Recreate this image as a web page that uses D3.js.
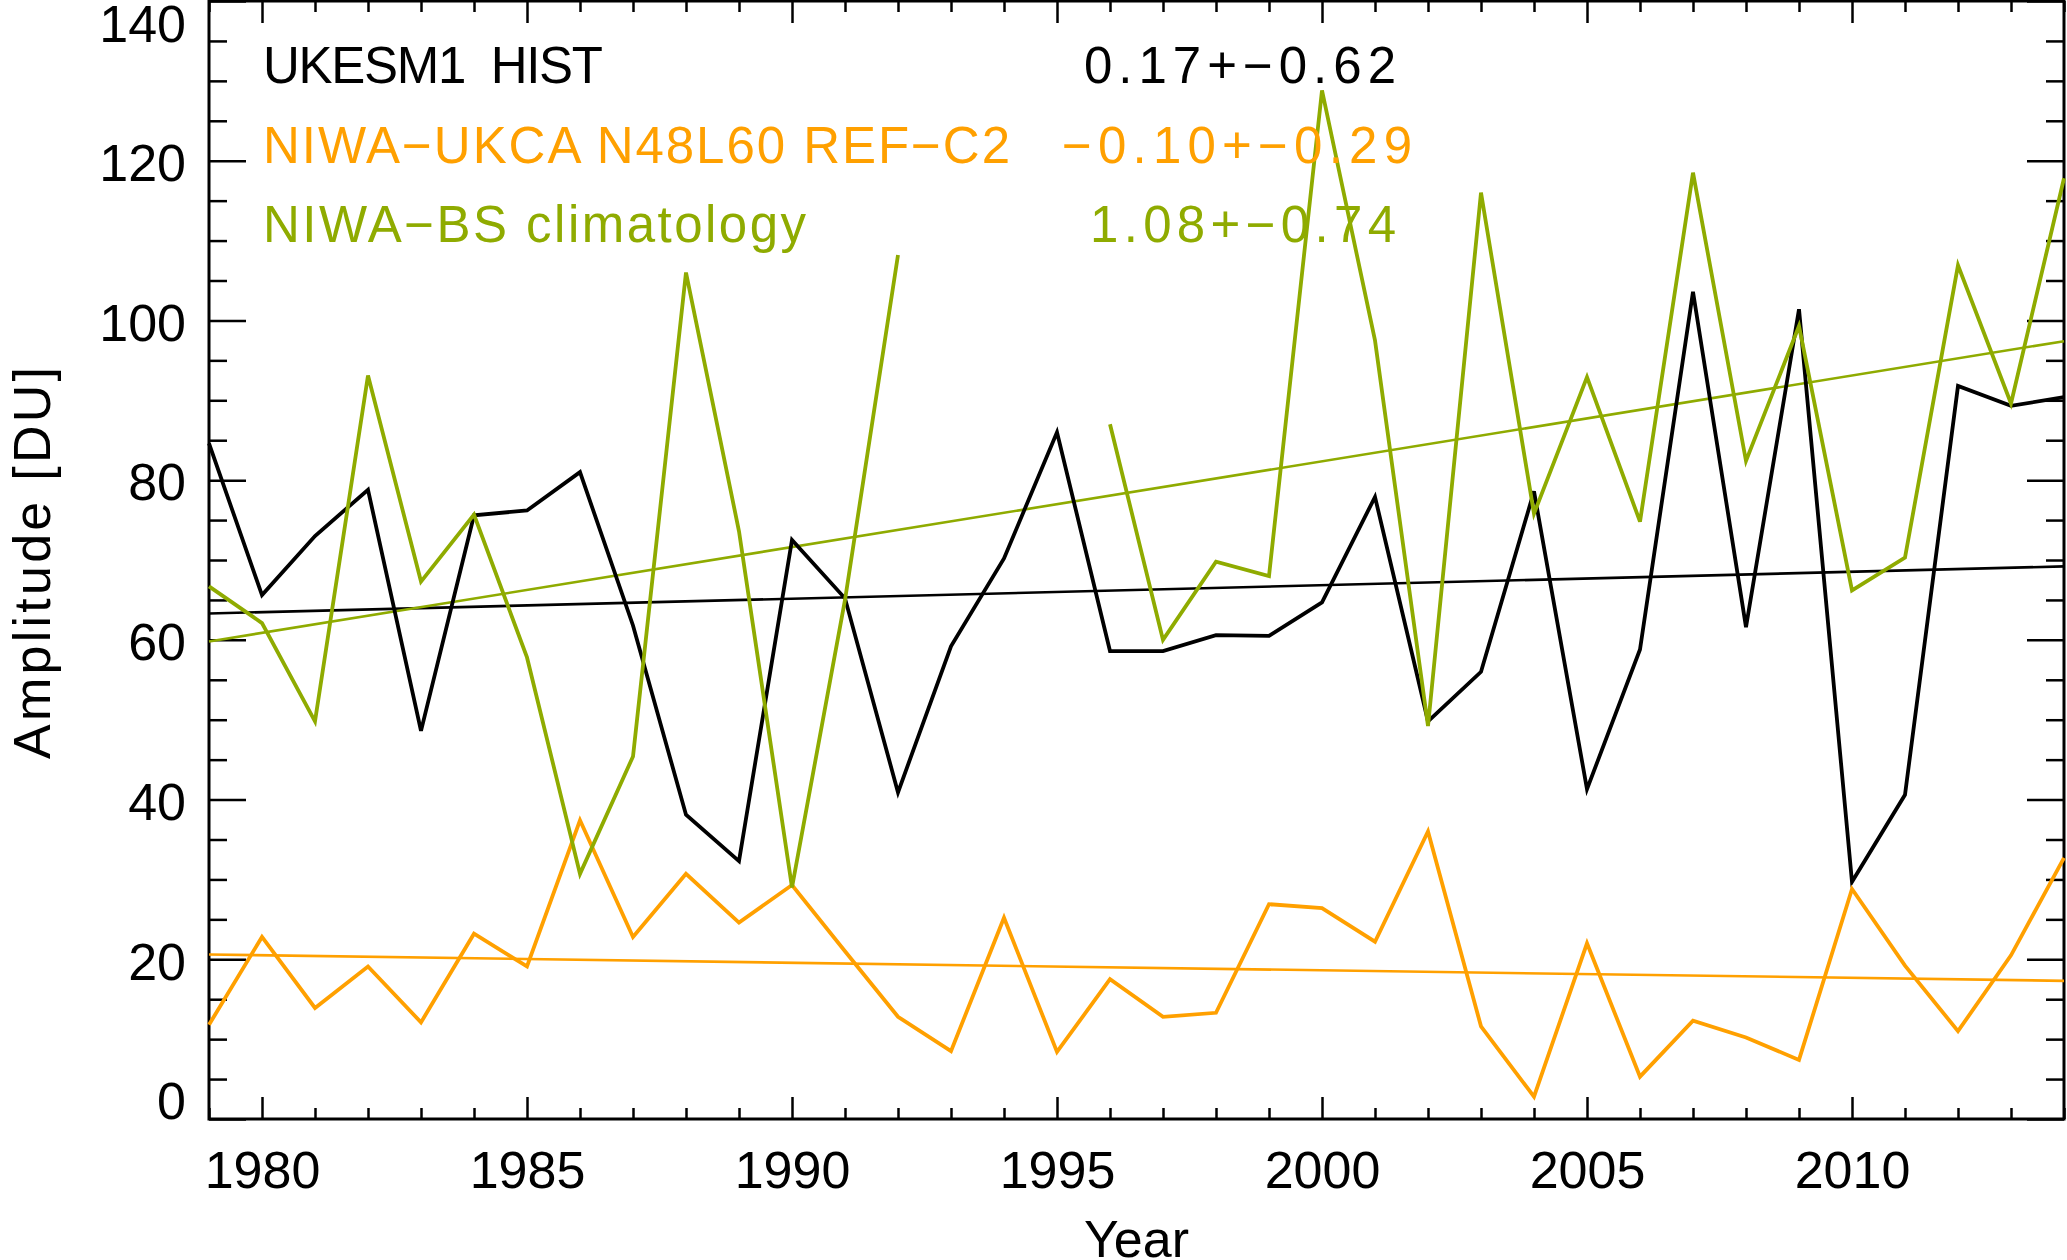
<!DOCTYPE html>
<html>
<head>
<meta charset="utf-8">
<script src="https://cdn.jsdelivr.net/npm/d3@7"></script>
<style>
  body { margin: 0; background: #fff; }
  text { font-family: "Liberation Sans", Arial, sans-serif; }
</style>
</head>
<body>
<div id="content"></div>
<script>
var years = d3.range(1979, 2015);
var ukesm = [84.6,65.6,73,78.8,48.6,75.6,76.2,81,61.8,38.1,32.3,72.5,65.2,40.9,59.2,70.2,86,58.6,58.6,60.6,
  60.5,64.7,77.9,49.8,56,78.6,41.3,58.8,103.6,61.6,101.4,29.7,40.6,91.8,89.3,90.4];
var niwaUkca = [11.8,22.8,13.9,19.1,12.1,23.2,19.1,37.4,22.8,30.7,24.6,29.3,21,12.8,8.5,25.2,8.4,17.5,12.8,13.3,
  26.9,26.4,22.2,36,11.6,2.8,22,5.3,12.3,10.2,7.4,28.8,19.2,11,20.5,32.7];
var niwaBs = [66.7,62.1,49.8,93.1,67.3,75.7,57.8,30.7,45.4,106,73.6,29,65,108.2,null,null,null,87,60,69.8,
  68,128.8,97.5,49.2,116,75.8,92.9,74.8,118.5,82.4,99.3,66.2,70.3,106.9,89.6,117.8];
var trendYears = [1979, 2014];
var ukesmTrend = [63.3, 69.2];
var niwaUkcaTrend = [20.6, 17.3];
var niwaBsTrend = [59.8, 97.4];
var seriesNames = ["UKESM1  HIST", "NIWA\u2212UKCA N48L60 REF\u2212C2", "NIWA\u2212BS climatology"];
var slopeLabels = ["0.17+\u22120.62", "\u22120.10+\u22120.29", "1.08+\u22120.74"];
var colors = ["#000000", "#ffa000", "#8fab00"];
var yMajor = [0, 20, 40, 60, 80, 100, 120, 140];
var xMajor = [1980, 1985, 1990, 1995, 2000, 2005, 2010];

(function(){
  var width = 2067, height = 1260;
  var pLeft = 209, pRight = 2064, pTop = 1, pBottom = 1119;

  var svg = d3.select('#content').append('svg').attr('width', width).attr('height', height);

  var x = d3.scaleLinear().domain([1979, 2014]).range([pLeft, pRight]);
  var y = d3.scaleLinear().domain([0, 140]).range([pBottom, pTop]);

  var yMinor = d3.range(0, 141, 5).filter(function(v){ return v % 20 !== 0; });
  var xMinor = years.filter(function(v){ return v % 5 !== 0; });

  function tickAxis(axis, tr) {
    var g = svg.append('g').attr('transform', tr).call(axis);
    g.select('.domain').remove();
    g.selectAll('line').attr('stroke', '#000').attr('stroke-width', 2.5);
    return g;
  }

  // minor ticks, all four sides
  tickAxis(d3.axisLeft(y).tickValues(yMinor).tickSize(-18).tickFormat(''), 'translate(' + pLeft + ',0)');
  tickAxis(d3.axisRight(y).tickValues(yMinor).tickSize(-18).tickFormat(''), 'translate(' + pRight + ',0)');
  tickAxis(d3.axisBottom(x).tickValues(xMinor).tickSize(-11).tickFormat(''), 'translate(0,' + pBottom + ')');
  tickAxis(d3.axisTop(x).tickValues(xMinor).tickSize(-11).tickFormat(''), 'translate(0,' + pTop + ')');

  // major ticks
  var yAxis = tickAxis(d3.axisLeft(y).tickValues(yMajor).tickSize(-37).tickPadding(23).tickFormat(d3.format('d')),
    'translate(' + pLeft + ',0)');
  tickAxis(d3.axisRight(y).tickValues(yMajor).tickSize(-37).tickFormat(''), 'translate(' + pRight + ',0)');
  var xAxis = tickAxis(d3.axisBottom(x).tickValues(xMajor).tickSize(-22).tickPadding(32).tickFormat(d3.format('d')),
    'translate(0,' + pBottom + ')');
  tickAxis(d3.axisTop(x).tickValues(xMajor).tickSize(-22).tickFormat(''), 'translate(0,' + pTop + ')');

  yAxis.selectAll('text').attr('font-size', 52).attr('fill', '#000').attr('dy', '0.38em')
    .attr('y', function(d){
      // end labels are pulled inside the frame
      var p = y(d);
      if (p < pTop + 21) return pTop + 21 - p;
      if (p > pBottom - 20) return pBottom - 20 - p;
      return 0;
    });
  xAxis.selectAll('text').attr('font-size', 52).attr('fill', '#000');

  svg.append('rect')
    .attr('x', pLeft).attr('y', pTop)
    .attr('width', pRight - pLeft).attr('height', pBottom - pTop)
    .attr('fill', 'none').attr('stroke', '#000').attr('stroke-width', 3);

  var line = d3.line()
    .defined(function(d){ return d.v !== null; })
    .x(function(d){ return x(d.yr); })
    .y(function(d){ return y(d.v); });

  var series = [ukesm, niwaUkca, niwaBs];
  var trends = [ukesmTrend, niwaUkcaTrend, niwaBsTrend];

  var plot = svg.append('g');

  trends.forEach(function(t, i){
    plot.append('path')
      .datum(trendYears.map(function(yr, j){ return { yr: yr, v: t[j] }; }))
      .attr('d', line)
      .attr('fill', 'none')
      .attr('stroke', colors[i])
      .attr('stroke-width', 2.6);
  });

  series.forEach(function(s, i){
    plot.append('path')
      .datum(years.map(function(yr, j){ return { yr: yr, v: s[j] }; }))
      .attr('d', line)
      .attr('fill', 'none')
      .attr('stroke', colors[i])
      .attr('stroke-width', 3.8);
  });

  // legend text
  var nameLen = [340, 747, 543];
  var slopeX = [1084, 1062, 1090];
  var slopeLen = [312, 350, 306];
  var legendY = [83, 163, 242];

  svg.selectAll('.name').data(seriesNames).enter().append('text')
    .attr('class', 'name')
    .attr('x', 263)
    .attr('y', function(d, i){ return legendY[i]; })
    .attr('textLength', function(d, i){ return nameLen[i]; })
    .attr('lengthAdjust', 'spacing')
    .attr('font-size', 51)
    .attr('fill', function(d, i){ return colors[i]; })
    .style('white-space', 'pre')
    .text(function(d){ return d; });

  svg.selectAll('.slope').data(slopeLabels).enter().append('text')
    .attr('class', 'slope')
    .attr('x', function(d, i){ return slopeX[i]; })
    .attr('y', function(d, i){ return legendY[i]; })
    .attr('textLength', function(d, i){ return slopeLen[i]; })
    .attr('lengthAdjust', 'spacing')
    .attr('font-size', 51)
    .attr('fill', function(d, i){ return colors[i]; })
    .text(function(d){ return d; });

  svg.append('text')
    .attr('x', (pLeft + pRight) / 2)
    .attr('y', 1257)
    .attr('text-anchor', 'middle')
    .attr('font-size', 52)
    .text('Year');

  svg.append('text')
    .attr('transform', 'translate(50,563) rotate(-90)')
    .attr('text-anchor', 'middle')
    .attr('textLength', 392)
    .attr('lengthAdjust', 'spacing')
    .attr('font-size', 52)
    .text('Amplitude [DU]');
})();
</script>
</body>
</html>
